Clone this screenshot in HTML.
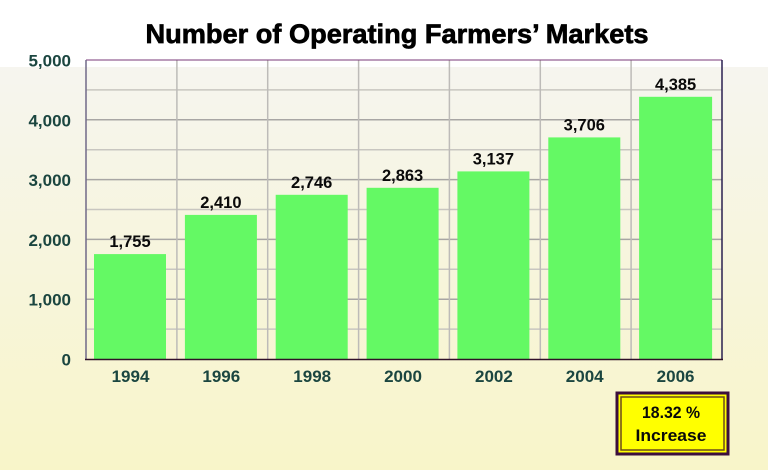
<!DOCTYPE html>
<html><head><meta charset="utf-8"><style>
html,body{margin:0;padding:0;width:768px;height:470px;overflow:hidden;background:#fff}
svg{display:block}
</style></head><body>
<svg width="768" height="470" viewBox="0 0 768 470" xmlns="http://www.w3.org/2000/svg">
<defs>
<linearGradient id="bg" x1="0" y1="0" x2="0" y2="1">
<stop offset="0" stop-color="#f6f5ef"/>
<stop offset="1" stop-color="#f8f5c9"/>
</linearGradient>
</defs>
<rect x="0" y="0" width="768" height="470" fill="#fff"/>
<rect x="0" y="67" width="768" height="403" fill="url(#bg)"/>
<text x="397" y="43" text-anchor="middle" font-family="Liberation Sans, sans-serif" font-weight="bold" font-size="27" textLength="503" lengthAdjust="spacingAndGlyphs" fill="#000" stroke="#000" stroke-width="0.7">Number of Operating Farmers’ Markets</text>
<g stroke="#c8c6c0" stroke-width="1.5">
<line x1="86" y1="89.9" x2="722" y2="89.9"/>
<line x1="86" y1="209.5" x2="722" y2="209.5"/>
<line x1="86" y1="149.7" x2="722" y2="149.7"/>
<line x1="86" y1="269.3" x2="722" y2="269.3"/>
<line x1="86" y1="329.1" x2="722" y2="329.1"/>
</g>
<g stroke="#a8a6a4" stroke-width="1.5">
<line x1="86" y1="119.8" x2="722" y2="119.8"/>
<line x1="86" y1="179.6" x2="722" y2="179.6"/>
<line x1="86" y1="239.4" x2="722" y2="239.4"/>
<line x1="86" y1="299.2" x2="722" y2="299.2"/>
</g>
<g stroke="#bdbbb8" stroke-width="1.5">
<line x1="176.9" y1="60" x2="176.9" y2="359"/>
<line x1="267.7" y1="60" x2="267.7" y2="359"/>
<line x1="358.6" y1="60" x2="358.6" y2="359"/>
<line x1="449.4" y1="60" x2="449.4" y2="359"/>
<line x1="540.3" y1="60" x2="540.3" y2="359"/>
<line x1="631.1" y1="60" x2="631.1" y2="359"/>
</g>
<g fill="#64f964">
<rect x="94" y="254.1" width="72" height="104.9"/>
<rect x="184.9" y="214.9" width="72" height="144.1"/>
<rect x="275.7" y="194.8" width="72" height="164.2"/>
<rect x="366.6" y="187.8" width="72" height="171.2"/>
<rect x="457.4" y="171.4" width="72" height="187.6"/>
<rect x="548.3" y="137.4" width="72" height="221.6"/>
<rect x="639.1" y="96.8" width="73" height="262.2"/>
</g>
<line x1="86" y1="60" x2="722" y2="60" stroke="#7a3a7a" stroke-width="1"/>
<line x1="722" y1="60" x2="722" y2="359.5" stroke="#2a2050" stroke-width="1.5"/>
<line x1="86" y1="60" x2="86" y2="359" stroke="#706a88" stroke-width="1.5"/>
<line x1="85" y1="359.5" x2="723" y2="359.5" stroke="#301028" stroke-width="1.5"/>
<g font-family="Liberation Sans, sans-serif" font-weight="bold" font-size="16.5" fill="#0a0a0a" text-anchor="middle">
<text x="130" y="247">1,755</text>
<text x="220.9" y="208">2,410</text>
<text x="311.7" y="188">2,746</text>
<text x="402.6" y="181">2,863</text>
<text x="493.4" y="164.5">3,137</text>
<text x="584.3" y="130.5">3,706</text>
<text x="675.6" y="90">4,385</text>
</g>
<g font-family="Liberation Sans, sans-serif" font-weight="bold" font-size="17" fill="#1b4640" text-anchor="end">
<text x="71" y="66.5">5,000</text>
<text x="71" y="126.3">4,000</text>
<text x="71" y="186.1">3,000</text>
<text x="71" y="245.9">2,000</text>
<text x="71" y="305.7">1,000</text>
<text x="71" y="365.5">0</text>
</g>
<g font-family="Liberation Sans, sans-serif" font-weight="bold" font-size="17" fill="#1b4640" text-anchor="middle">
<text x="130.5" y="382">1994</text>
<text x="221.3" y="382">1996</text>
<text x="312.2" y="382">1998</text>
<text x="403" y="382">2000</text>
<text x="493.9" y="382">2002</text>
<text x="584.7" y="382">2004</text>
<text x="675.6" y="382">2006</text>
</g>
<rect x="617" y="393" width="111" height="61" fill="#ffff00" stroke="#3c0f3c" stroke-width="3"/>
<rect x="621" y="397" width="103" height="53" fill="none" stroke="#6b4a1a" stroke-width="1.5"/>
<g font-family="Liberation Sans, sans-serif" font-weight="bold" font-size="16.5" fill="#0a0a0a" text-anchor="middle">
<text x="671" y="418" textLength="58" lengthAdjust="spacingAndGlyphs">18.32 %</text>
<text x="671" y="441" textLength="71" lengthAdjust="spacingAndGlyphs">Increase</text>
</g>
</svg>
</body></html>
